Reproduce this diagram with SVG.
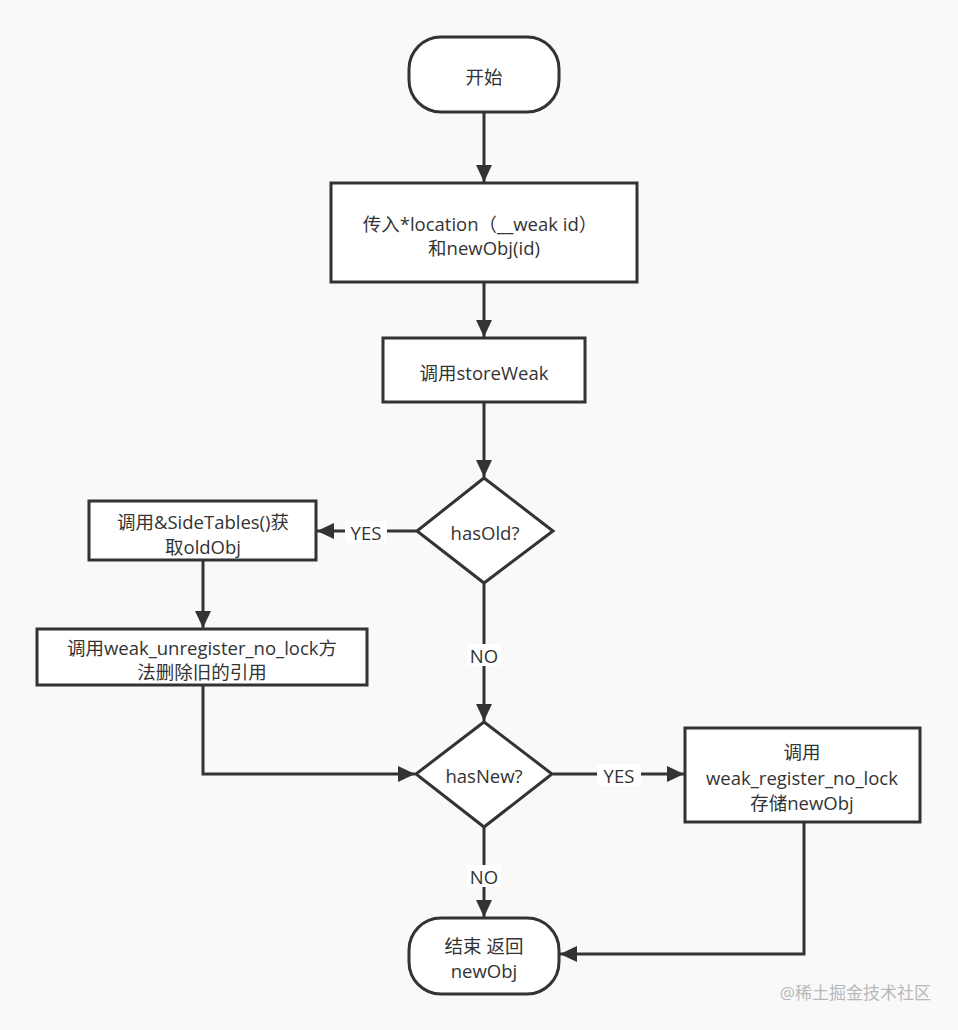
<svg xmlns="http://www.w3.org/2000/svg" width="958" height="1030" viewBox="0 0 958 1030">
<style>
.shape{fill:#ffffff;stroke:#333333;stroke-width:3}
.t{font-family:"Open Sans","Noto Sans CJK SC",sans-serif;font-size:18.5px;fill:#333333;text-anchor:middle;dominant-baseline:central}
.edge{fill:none;stroke:#333333;stroke-width:3}
.lbl{fill:#ffffff;stroke:none}
.wm{font-family:"Open Sans","Noto Sans CJK SC",sans-serif;font-size:17px;fill:#b8b8b8;text-anchor:end;dominant-baseline:central}
</style>
<defs>
<marker id="arr" markerUnits="userSpaceOnUse" markerWidth="18" markerHeight="16" refX="17" refY="8" orient="auto">
<path d="M0,0 L17,8 L0,16 Z" fill="#333333"/>
</marker>
</defs>
<rect width="958" height="1030" fill="#f9f9f9"/>
<g id="connectors">
<line class="edge" x1="484" y1="113" x2="484" y2="182" marker-end="url(#arr)"/>
<line class="edge" x1="484" y1="283" x2="484" y2="337" marker-end="url(#arr)"/>
<line class="edge" x1="484" y1="403" x2="484" y2="477" marker-end="url(#arr)"/>
<line class="edge" x1="417" y1="531" x2="317" y2="531" marker-end="url(#arr)"/>
<rect class="lbl" x="345" y="521" width="42" height="22"/>
<text class="t" x="366" y="532">YES</text>
<line class="edge" x1="203" y1="561" x2="203" y2="628" marker-end="url(#arr)"/>
<line class="edge" x1="484" y1="584" x2="484" y2="721" marker-end="url(#arr)"/>
<rect class="lbl" x="467" y="644" width="34" height="22"/>
<text class="t" x="484" y="655">NO</text>
<polyline class="edge" points="203,686 203,774 415,774" marker-end="url(#arr)"/>
<line class="edge" x1="553" y1="774" x2="684" y2="774" marker-end="url(#arr)"/>
<rect class="lbl" x="597" y="764" width="44" height="22"/>
<text class="t" x="619" y="775">YES</text>
<line class="edge" x1="484" y1="828" x2="484" y2="917" marker-end="url(#arr)"/>
<rect class="lbl" x="467" y="865" width="34" height="22"/>
<text class="t" x="484" y="876">NO</text>
<polyline class="edge" points="804,823 804,954 560,954" marker-end="url(#arr)"/>
</g>
<g id="start">
<rect class="shape" x="409" y="37" width="150" height="75" rx="32" ry="32"/>
<text class="t" x="484" y="76">开始</text>
</g>
<g id="input">
<rect class="shape" x="331" y="183" width="306" height="99"/>
<text class="t" x="480" y="223">传入*location（__weak id）</text>
<text class="t" x="484" y="247">和newObj(id)</text>
</g>
<g id="storeWeak">
<rect class="shape" x="383" y="338" width="202" height="64"/>
<text class="t" x="484" y="372">调用storeWeak</text>
</g>
<g id="hasOld">
<polygon class="shape" points="484,478 553,531 484,583 417,531"/>
<text class="t" x="485" y="532">hasOld?</text>
</g>
<g id="sideTables">
<rect class="shape" x="89" y="501" width="227" height="59"/>
<text class="t" x="203" y="521">调用&amp;SideTables()获</text>
<text class="t" x="203" y="546">取oldObj</text>
</g>
<g id="unregister">
<rect class="shape" x="37" y="629" width="330" height="56"/>
<text class="t" x="202" y="647">调用weak_unregister_no_lock方</text>
<text class="t" x="202" y="671">法删除旧的引用</text>
</g>
<g id="hasNew">
<polygon class="shape" points="484,722 552,774 484,827 416,774"/>
<text class="t" x="484" y="775">hasNew?</text>
</g>
<g id="register">
<rect class="shape" x="685" y="728" width="235" height="94"/>
<text class="t" x="802" y="751">调用</text>
<text class="t" x="802" y="777">weak_register_no_lock</text>
<text class="t" x="802" y="802">存储newObj</text>
</g>
<g id="end">
<rect class="shape" x="409" y="918" width="150" height="76" rx="32" ry="32"/>
<text class="t" x="484" y="945">结束 返回</text>
<text class="t" x="484" y="970">newObj</text>
</g>
<text class="wm" x="931" y="992">@稀土掘金技术社区</text>
</svg>
